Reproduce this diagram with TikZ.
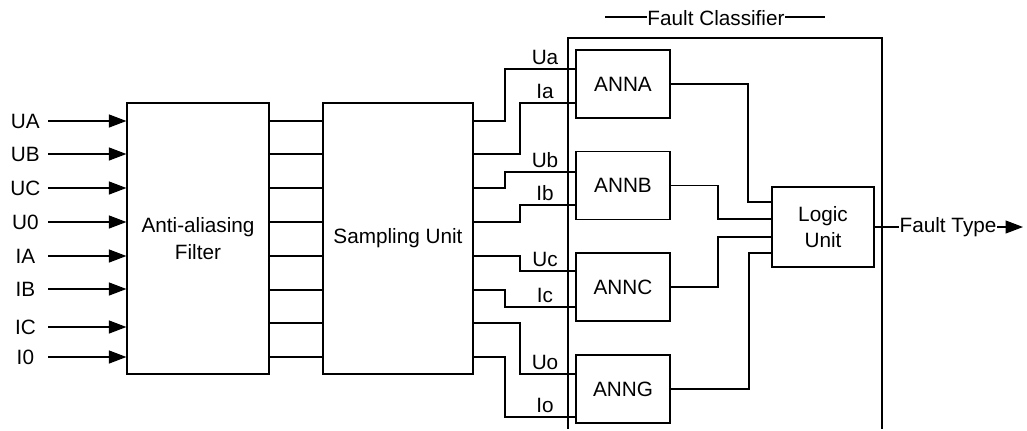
\documentclass[tikz,border=0pt]{standalone}
\usepackage{fontspec}
\setmainfont{Liberation Sans}
\usetikzlibrary{arrows.meta}

\begin{document}
\begin{tikzpicture}[x=0.02cm,y=-0.02cm,line width=0.7pt,
  box/.style={draw,rectangle,inner sep=0pt,align=center},
  inlab/.style={anchor=east,minimum width=0.88cm,inner sep=0pt},
  wlab/.style={above,inner sep=2pt},
  arr/.style={-{Triangle[length=3.5mm,width=2.6mm]}}]
\fontsize{11.8}{15}\selectfont
\useasboundingbox (0,0) rectangle (1027,430);
\node[box,minimum width=2.84cm,minimum height=5.42cm] (filter) at (198,238.5) {Anti-aliasing\\Filter};
\node[box,minimum width=3cm,minimum height=5.42cm] (sampling) at (398,238.5) {Sampling Unit};
\node[box,minimum width=1.88cm,minimum height=1.36cm] (anna) at (623,84) {ANNA};
\node[box,minimum width=1.88cm,minimum height=1.36cm] (annb) at (623,185.5) {ANNB};
\node[box,minimum width=1.88cm,minimum height=1.36cm] (annc) at (623,287) {ANNC};
\node[box,minimum width=1.88cm,minimum height=1.36cm] (anng) at (623,389) {ANNG};
\node[box,minimum width=2.04cm,minimum height=1.6cm] (logic) at (823,227) {Logic\\Unit};
\draw (568,429) |- (882,38) -- (882,429);
\node[inner sep=0pt,anchor=base] (fctitle) at (716,25) {Fault Classifier};
\coordinate (fcl) at (605,17);
\coordinate (fcr) at (825,17);
\draw (fcl) -- (fctitle.west |- fcl);
\draw (fctitle.east |- fcr) -- (fcr);
\foreach \y/\lab in {121/UA,154/UB,188/UC,222/U0,256/IA,289/IB,327/IC,357/I0}
{
  \node[inlab] (in\lab) at (48,\y) {\lab};
  \draw[arr] (in\lab.east) -- (filter.west |- in\lab.east);
}
\foreach \y in {121,154,188,222,256,290,323,357}
  \draw (filter.east |- 0,\y) -- (sampling.west |- 0,\y);
\foreach \ys/\xb/\yt/\lab in {121/505/69/Ua,154/520/103/Ia,188/505/172/Ub,222/520/205/Ib,256/520/271/Uc,290/505/307/Ic,323/520/374/Uo,357/505/417/Io}
{
  \draw (sampling.east |- 0,\ys) -| (\xb,\yt) -- (anna.west |- 0,\yt);
  \node[wlab] (w\lab) at (545,\yt) {\lab};
}
\draw (anna.east) -| (748,202) -- (logic.west |- 0,202);
\draw (annb.east) -| (718,219) -- (logic.west |- 0,219);
\draw (annc.east) -| (718,237) -- (logic.west |- 0,237);
\draw (anng.east) -| (749,253) -- (logic.west |- 0,253);
\node[inner sep=0pt,anchor=base west] (ftype) at (899,232) {Fault Type};
\coordinate (out) at (1023,227);
\draw (logic.east) -- (logic.east -| ftype.west);
\draw[arr] (ftype.east |- out) -- (out);
\end{tikzpicture}
\end{document}
